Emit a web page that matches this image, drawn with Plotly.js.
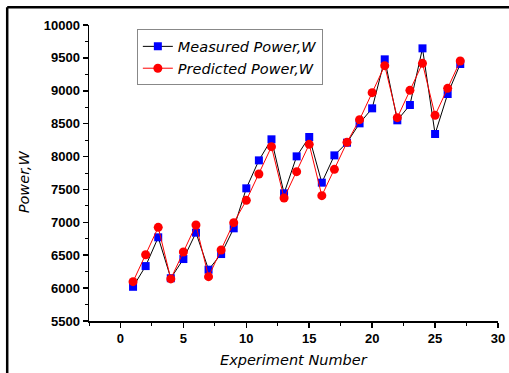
<!DOCTYPE html>
<html><head><meta charset="utf-8">
<script src="https://cdn.plot.ly/plotly-3.0.1.min.js"></script>
<style>html,body{margin:0;padding:0;background:#fff}#chart{width:509px;height:373px}</style>
</head><body><div id="chart"></div>
<script>
const experiments = [1,2,3,4,5,6,7,8,9,10,11,12,13,14,15,16,17,18,19,20,21,22,23,24,25,26,27];
const measuredPower = [6020,6335,6772,6150,6442,6843,6280,6518,6909,7517,7942,8262,7441,8003,8297,7603,8018,8211,8505,8733,9478,8551,8784,9645,8343,8951,9407];
const predictedPower = [6098,6508,6924,6140,6549,6959,6174,6579,6995,7334,7735,8150,7370,7770,8186,7405,7806,8216,8561,8971,9382,8591,9007,9417,8627,9037,9453];
const seriesNames = ['Measured Power,W','Predicted Power,W'];

const traces = [
  {x: experiments, y: measuredPower, name: seriesNames[0], type: 'scatter', mode: 'lines+markers',
   line: {color: '#000000', width: 1}, marker: {symbol: 'square', size: 8, color: '#0000ff'}},
  {x: experiments, y: predictedPower, name: seriesNames[1], type: 'scatter', mode: 'lines+markers',
   line: {color: '#ff0000', width: 1}, marker: {symbol: 'circle', size: 9, color: '#ff0000'}}
];
const tickFont = {family: 'Liberation Sans', size: 13, color: '#000', weight: 'bold'};
const titleFont = {family: 'DejaVu Sans', size: 14.5, style: 'italic', color: '#000'};
const layout = {
  width: 509, height: 373,
  margin: {l: 89, r: 11, t: 25, b: 52},
  paper_bgcolor: '#ffffff', plot_bgcolor: '#ffffff',
  showlegend: true,
  legend: {x: 0.117, y: 0.985, xanchor: 'left', yanchor: 'top', bgcolor: 'rgba(255,255,255,0)',
    bordercolor: '#888', borderwidth: 1, tracegroupgap: 0,
    font: titleFont},
  xaxis: {range: [-2.5, 30], tick0: 0, dtick: 5, showgrid: false, zeroline: false,
    showline: true, linecolor: '#000', linewidth: 1.5, ticks: 'outside', ticklen: 5, tickwidth: 1.5, tickcolor: '#000',
    minor: {dtick: 2.5, ticks: 'outside', ticklen: 3, tickcolor: '#000', tickwidth: 1},
    tickfont: tickFont},
  yaxis: {range: [5500, 10000], dtick: 500, tickformat: 'd', showgrid: false, zeroline: false,
    showline: true, linecolor: '#000', linewidth: 1.5, ticks: 'outside', ticklen: 5, tickwidth: 1.5, tickcolor: '#000',
    minor: {dtick: 250, ticks: 'outside', ticklen: 3, tickcolor: '#000', tickwidth: 1},
    tickfont: tickFont},
  annotations: [
    {text: 'Experiment Number', xref: 'paper', yref: 'paper', x: 0.5, y: -0.133, yanchor: 'middle', showarrow: false, font: titleFont},
    {text: 'Power,W', xref: 'paper', yref: 'paper', x: -0.158, y: 0.47, xanchor: 'center', yanchor: 'middle', textangle: -90, showarrow: false, font: titleFont}
  ],
  shapes: [
    {type: 'line', xref: 'paper', yref: 'paper', x0: -0.2, x1: -0.2, y0: -0.3, y1: 1.06, line: {color: '#000', width: 2.5}},
    {type: 'line', xref: 'paper', yref: 'paper', x0: -0.2, x1: 1.1, y0: 1.06, y1: 1.06, line: {color: '#000', width: 2.5}}
  ]
};
Plotly.newPlot('chart', traces, layout, {displayModeBar: false, staticPlot: true});
</script></body></html>
